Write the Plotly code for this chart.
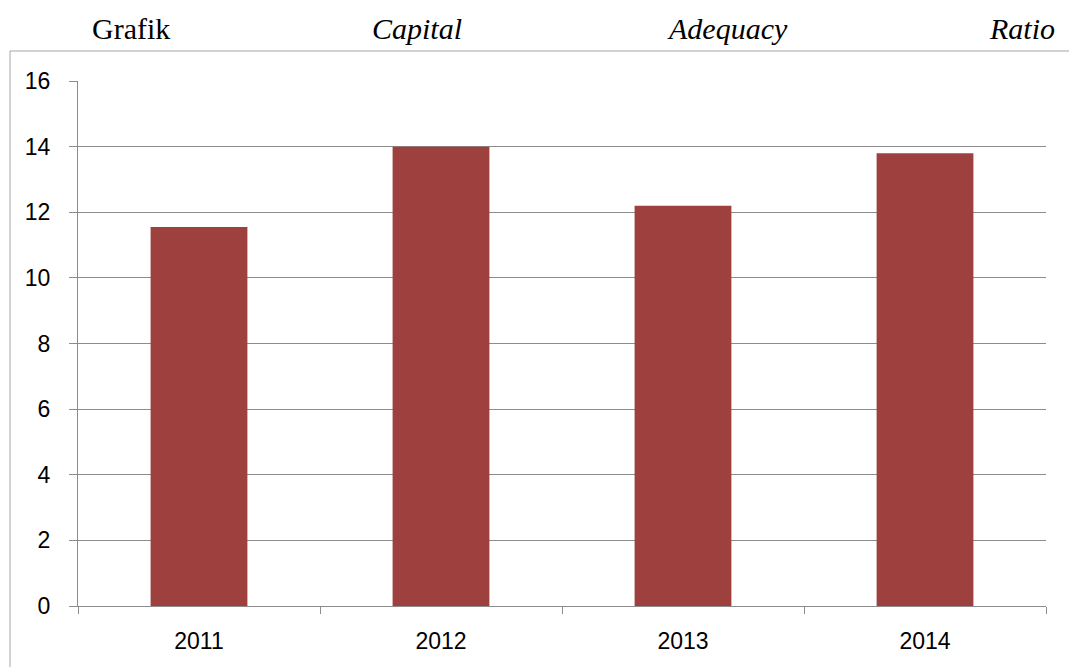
import plotly.graph_objects as go

years = ["2011", "2012", "2013", "2014"]
car_values = [11.55, 14.0, 12.2, 13.8]
y_ticks = [0, 2, 4, 6, 8, 10, 12, 14, 16]
title_words = ["Grafik", "Capital", "Adequacy", "Ratio"]
title_italic = [False, True, True, True]

W, H = 1069, 667
L, R, T, B = 78, 23, 81, 61
pw = W - L - R
ph = H - T - B

def px_x(px):
    return (px - L) / pw

def px_y(py):
    return 1 - (py - T) / ph

fig = go.Figure()
fig.add_trace(go.Bar(
    x=years, y=car_values,
    marker=dict(color="#9E413E", line=dict(width=0)),
    hoverinfo="x+y",
))

grid = "#8C8C8C"
fig.update_layout(
    width=W, height=H,
    margin=dict(l=L, r=R, t=T, b=B),
    paper_bgcolor="white", plot_bgcolor="white",
    bargap=0.6,
    showlegend=False,
    font=dict(family="Liberation Sans, Arial, sans-serif", size=23, color="black"),
    xaxis=dict(
        type="category", tickson="boundaries", ticks="outside", ticklen=7,
        tickcolor=grid, showline=True, linecolor=grid, linewidth=1,
        showgrid=False, tickfont=dict(size=23), ticklabelstandoff=14,
    ),
    yaxis=dict(
        range=[0, 16], tickvals=y_ticks, ticks="outside", ticklen=8,
        tickcolor=grid, showline=True, linecolor=grid, linewidth=1,
        showgrid=True, gridcolor=grid, gridwidth=1, zeroline=False,
        tickfont=dict(size=23), ticklabelstandoff=14,
    ),
)

# outer chart border
fig.add_shape(type="rect", xref="paper", yref="paper",
              x0=px_x(10), x1=px_x(1080), y0=px_y(51), y1=px_y(690),
              line=dict(color="#A6A6A6", width=1), fillcolor="rgba(0,0,0,0)",
              layer="below")

# justified title words
title_pos = [(90, "left"), (370, "left"), (665, "left"), (1057, "right")]
for word, ital, (xp, anc) in zip(title_words, title_italic, title_pos):
    txt = f"<i>{word}</i>" if ital else word
    fig.add_annotation(x=px_x(xp), y=px_y(28), xref="paper", yref="paper",
                       text=txt, showarrow=False, xanchor=anc, yanchor="middle",
                       font=dict(family="Liberation Serif, Times New Roman, serif",
                                 size=30, color="black"))

fig.write_html("out.html")
